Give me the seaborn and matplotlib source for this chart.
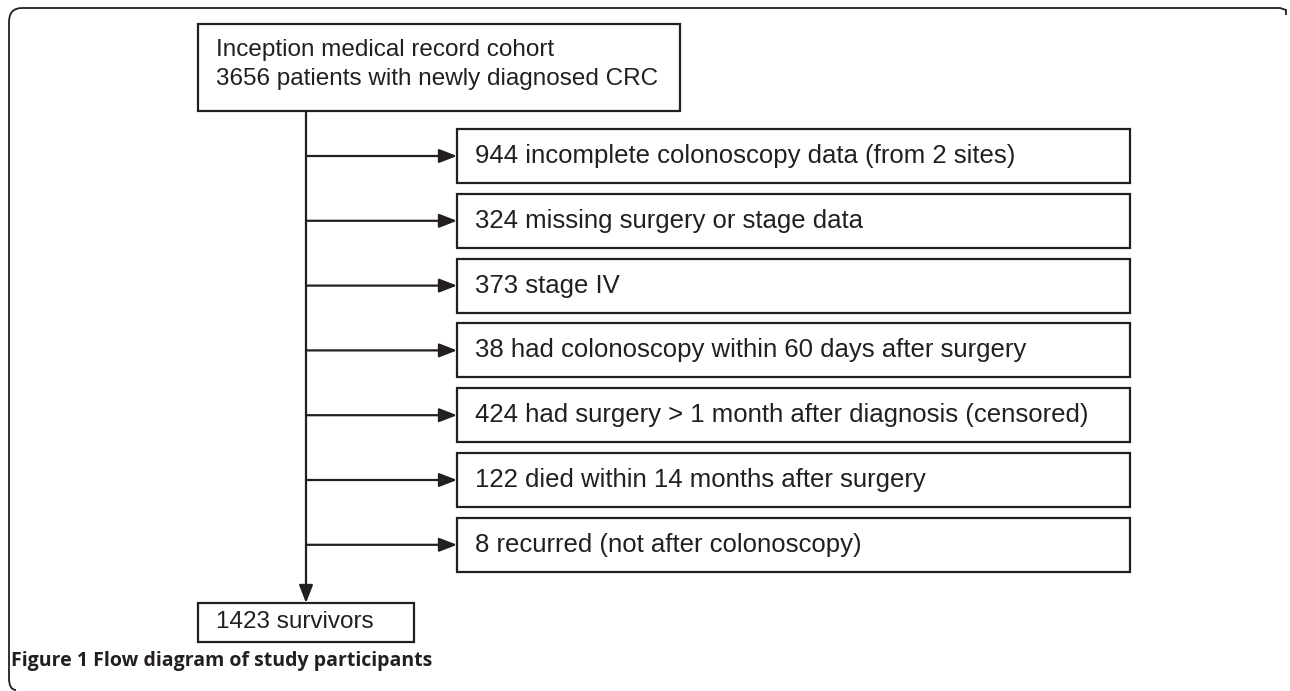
import seaborn as sns
import matplotlib.pyplot as plt
from matplotlib.patches import Rectangle, PathPatch
from matplotlib.path import Path

top_text = ['Inception medical record cohort', '3656 patients with newly diagnosed CRC']
excluded = [
    '944 incomplete colonoscopy data (from 2 sites)',
    '324 missing surgery or stage data',
    '373 stage IV',
    '38 had colonoscopy within 60 days after surgery',
    '424 had surgery > 1 month after diagnosis (censored)',
    '122 died within 14 months after surgery',
    '8 recurred (not after colonoscopy)',
]
final_text = '1423 survivors'
caption = 'Figure 1 Flow diagram of study participants'

sns.set_theme(style="white")
plt.rcParams['font.family'] = ['Liberation Sans', 'DejaVu Sans']

ink = '#231f20'
fig = plt.figure(figsize=(12.9, 6.91), dpi=100)
ax = fig.add_axes([0, 0, 1, 1])
ax.set_xlim(0, 1290)
ax.set_ylim(691, 0)
ax.axis('off')

# outer frame, open at the right and bottom
frame = Path([(1286, 15), (1286, 10), (1280, 8), (22, 8), (9, 8), (9, 22),
              (9, 678), (9, 690), (16, 690)],
             [Path.MOVETO, Path.LINETO, Path.LINETO, Path.LINETO, Path.CURVE3,
              Path.CURVE3, Path.LINETO, Path.CURVE3, Path.CURVE3])
ax.add_patch(PathPatch(frame, fill=False, lw=1.3, edgecolor=ink))

box_kw = dict(fill=False, lw=1.6, edgecolor=ink)
txt_kw = dict(fontsize=17.5, color=ink, va='center', ha='left')
arrow = dict(arrowstyle='-|>,head_length=0.9,head_width=0.35',
             lw=1.6, color=ink, shrinkA=0, shrinkB=0)

# top box
ax.add_patch(Rectangle((198, 24), 482, 87, **box_kw))
ax.text(216, 50, top_text[0], **txt_kw)
ax.text(216, 79, top_text[1], **txt_kw)

# main spine down to the survivors box
spine_x = 306
ax.annotate('', xy=(spine_x, 603), xytext=(spine_x, 111), arrowprops=arrow)

# exclusion boxes
for i, label in enumerate(excluded):
    top = 129 + i * 64.8
    h = 54
    cy = top + h / 2
    ax.add_patch(Rectangle((457, top), 673, h, **box_kw))
    ax.text(475, cy, label, **dict(txt_kw, fontsize=18.5))
    ax.annotate('', xy=(457, cy), xytext=(spine_x, cy), arrowprops=arrow)

# final box
ax.add_patch(Rectangle((198, 603), 216, 39, **box_kw))
ax.text(216, 622, final_text, **txt_kw)

# caption
ax.text(11, 661, caption, fontsize=14, fontweight='bold', color=ink,
        va='center', ha='left', family=['Open Sans', 'DejaVu Sans'])

fig.savefig('out.png', dpi=100)
